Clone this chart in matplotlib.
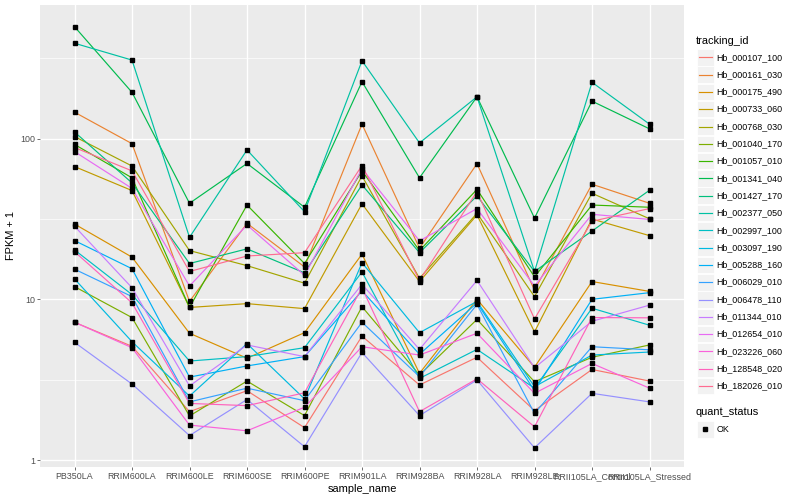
import matplotlib
matplotlib.use("Agg")
import matplotlib.pyplot as plt
from matplotlib.lines import Line2D
from matplotlib.patches import Rectangle

samples = ["PB350LA", "RRIM600LA", "RRIM600LE", "RRIM600SE", "RRIM600PE", "RRIM901LA",
           "RRIM928BA", "RRIM928LA", "RRIM928LE", "RRII105LA_Control", "RRII105LA_Stressed"]

tracking_ids = ["Hb_000107_100", "Hb_000161_030", "Hb_000175_490", "Hb_000733_060",
                "Hb_000768_030", "Hb_001040_170", "Hb_001057_010", "Hb_001341_040",
                "Hb_001427_170", "Hb_002377_050", "Hb_002997_100", "Hb_003097_190",
                "Hb_005288_160", "Hb_006029_010", "Hb_006478_110", "Hb_011344_010",
                "Hb_012654_010", "Hb_023226_060", "Hb_128548_020", "Hb_182026_010"]

Hb_000107_100 = [7.2, 5.1, 2.0, 2.7, 1.59, 5.9, 2.93, 4.36, 2.03, 3.66, 3.1]
Hb_000161_030 = [146, 93, 9.7, 29.7, 15.9, 123, 20.8, 69.8, 11.4, 52, 39.6]
Hb_000175_490 = [29.4, 18.3, 6.15, 4.3, 6.2, 19.1, 3.46, 10.0, 3.78, 12.9, 11.2]
Hb_000733_060 = [67, 47.5, 8.9, 9.4, 8.75, 39.3, 12.9, 33.5, 6.27, 31.6, 24.9]
Hb_000768_030 = [103, 67.5, 20.1, 16.2, 12.6, 58.6, 13.5, 34.3, 10.4, 45.7, 31.7]
Hb_001040_170 = [12, 7.7, 1.88, 3.1, 1.89, 9.0, 3.38, 7.5, 3.07, 4.36, 5.2]
Hb_001057_010 = [92, 57, 8.9, 38.6, 16.7, 63, 20.1, 48.3, 13.8, 38.6, 37.4]
Hb_001341_040 = [497, 194, 39.6, 70, 37.4, 226, 57, 182, 32, 171, 115]
Hb_001427_170 = [110, 53, 16.7, 20.6, 14.6, 51.5, 19.5, 44, 14.9, 26.6, 47.7]
Hb_002377_050 = [392, 308, 24.3, 85, 35.1, 305, 94, 182, 14.9, 224, 123]
Hb_002997_100 = [20.3, 10.7, 4.13, 4.4, 5.0, 14.8, 3.22, 4.88, 2.8, 8.8, 6.9]
Hb_003097_190 = [13.4, 5.45, 2.5, 5.3, 2.4, 16.9, 6.2, 9.7, 2.86, 4.5, 4.7]
Hb_005288_160 = [23.2, 15.5, 3.28, 3.85, 4.4, 11.3, 4.55, 9.5, 2.7, 10.0, 11.0]
Hb_006029_010 = [15.4, 10.4, 2.3, 2.8, 2.34, 7.2, 3.3, 9.3, 1.95, 5.07, 4.85]
Hb_006478_110 = [5.4, 2.97, 1.42, 2.38, 1.21, 4.67, 1.89, 3.15, 1.19, 2.6, 2.3]
Hb_011344_010 = [28.5, 11.8, 2.89, 5.2, 4.4, 12.4, 4.88, 13.1, 3.75, 7.3, 9.2]
Hb_012654_010 = [83, 49, 12.1, 29, 14.1, 65, 23.1, 36.7, 12.1, 33.8, 31.4]
Hb_023226_060 = [7.2, 5.0, 1.65, 1.52, 2.13, 5.07, 4.5, 6.15, 2.6, 3.99, 2.8]
Hb_128548_020 = [19.8, 9.5, 2.25, 2.18, 2.62, 11.8, 2.0, 3.2, 1.61, 7.7, 7.67]
Hb_182026_010 = [88, 63, 14.9, 18.6, 19.5, 68, 13.1, 46.8, 7.55, 30.6, 36.7]

series = [Hb_000107_100, Hb_000161_030, Hb_000175_490, Hb_000733_060, Hb_000768_030,
          Hb_001040_170, Hb_001057_010, Hb_001341_040, Hb_001427_170, Hb_002377_050,
          Hb_002997_100, Hb_003097_190, Hb_005288_160, Hb_006029_010, Hb_006478_110,
          Hb_011344_010, Hb_012654_010, Hb_023226_060, Hb_128548_020, Hb_182026_010]

colors = ["#F8766D", "#EA8331", "#D89000", "#C09B00", "#A3A500", "#7CAE00", "#39B600",
          "#00BB4E", "#00BF7D", "#00C1A3", "#00BFC4", "#00BAE0", "#00B0F6", "#35A2FF",
          "#9590FF", "#C77CFF", "#E76BF3", "#FA62DB", "#FF62BC", "#FF6C91"]

plt.rcParams['font.family'] = ['Liberation Sans', 'DejaVu Sans']

W, H = 800, 500
fig = plt.figure(figsize=(8, 5), dpi=100)
fig.patch.set_facecolor("white")

px_l, px_r, px_t, px_b = 40, 684, 5, 467
ax = fig.add_axes([px_l / W, 1 - px_b / H, (px_r - px_l) / W, (px_b - px_t) / H])
ax.set_facecolor("#EBEBEB")
for s in ax.spines.values():
    s.set_visible(False)

xs = list(range(len(samples)))
ax.set_yscale("log")
ax.set_xlim(-0.6, len(samples) - 1 + 0.6)
ax.set_ylim(0.905, 678)

ax.set_yticks([1, 10, 100])
ax.set_yticklabels(["1", "10", "100"])
ax.set_yticks([10 ** 0.5, 10 ** 1.5, 10 ** 2.5], minor=True)
ax.yaxis.set_minor_formatter(matplotlib.ticker.NullFormatter())
ax.set_xticks(xs)
ax.set_xticklabels(samples)

ax.grid(True, which="major", color="white", linewidth=1.0)
ax.grid(True, which="minor", axis="y", color="white", linewidth=0.5)
ax.set_axisbelow(True)
ax.tick_params(axis="both", which="major", length=2.0, width=0.5, color="#333333",
               labelsize=6.4, labelcolor="#4D4D4D", pad=1.6)
ax.tick_params(axis="y", which="minor", length=0)

for vals, c in zip(series, colors):
    ax.plot(xs, vals, color=c, linewidth=0.85, zorder=2)
for vals in series:
    ax.plot(xs, vals, linestyle="none", marker="s", markersize=2.2, color="black",
            zorder=3)

ax.set_xlabel("sample_name", fontsize=7.9, color="black", labelpad=2)
ax.set_ylabel("FPKM + 1", fontsize=7.9, color="black", labelpad=3)

lg = fig.add_axes([0, 0, 1, 1])
lg.set_xlim(0, W)
lg.set_ylim(H, 0)
lg.axis("off")
lg.patch.set_alpha(0)

lg.text(696, 40.5, "tracking_id", fontsize=7.9, va="center", ha="left", color="black")
y0, dy = 57.3, 17.3
for i, (tid, c) in enumerate(zip(tracking_ids, colors)):
    yc = y0 + i * dy
    lg.add_patch(Rectangle((697, yc - 8.3), 16.6, 16.6, facecolor="#F2F2F2",
                           edgecolor="white", linewidth=0.6))
    lg.add_line(Line2D([698.5, 711.5], [yc, yc], color=c, linewidth=0.85))
    lg.text(716.5, yc, tid, fontsize=6.4, va="center", ha="left", color="black")

lg.text(696, 412, "quant_status", fontsize=7.9, va="center", ha="left", color="black")
lg.add_patch(Rectangle((697, 421), 16.6, 16.6, facecolor="#F2F2F2",
                       edgecolor="white", linewidth=0.6))
lg.plot([705.3], [429.3], marker="s", markersize=2.2, color="black", linestyle="none")
lg.text(716.5, 429.3, "OK", fontsize=6.4, va="center", ha="left", color="black")

fig.savefig("out.png", dpi=100)
